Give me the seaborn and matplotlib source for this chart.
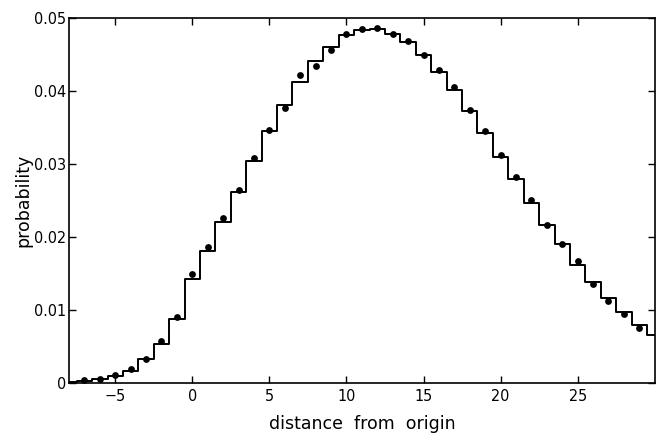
import pandas as pd
import seaborn as sns
import matplotlib.pyplot as plt
from matplotlib import ticker

# Histogram bins (centres, unit width) and their heights
bin_centres = list(range(-8, 31))
bin_heights = [0.0002, 0.0003, 0.0005, 0.0009, 0.0016, 0.0033, 0.0054, 0.0088,
               0.0142, 0.0181, 0.0221, 0.0262, 0.0304, 0.0345, 0.0381, 0.0413,
               0.0441, 0.0461, 0.0477, 0.0484, 0.0485, 0.0478, 0.0467, 0.0450,
               0.0426, 0.0401, 0.0373, 0.0342, 0.0310, 0.0279, 0.0247, 0.0217,
               0.0190, 0.0162, 0.0139, 0.0117, 0.0097, 0.0080, 0.0066]

# Points
dot_x = list(range(-7, 30))
dot_y = [0.0004, 0.0006, 0.0011, 0.0019, 0.0033, 0.0058, 0.0090,
         0.0149, 0.0187, 0.0226, 0.0264, 0.0309, 0.0347, 0.0377, 0.0422,
         0.0435, 0.0456, 0.0479, 0.0485, 0.0486, 0.0479, 0.0469, 0.0450,
         0.0429, 0.0406, 0.0374, 0.0345, 0.0313, 0.0283, 0.0251, 0.0217,
         0.0191, 0.0167, 0.0136, 0.0113, 0.0094, 0.0076]

x_ticks = [-5, 0, 5, 10, 15, 20, 25]
y_ticks = [0, 0.01, 0.02, 0.03, 0.04, 0.05]

sns.set_style('ticks')
plt.rcParams['font.family'] = ['DejaVu Sans']
plt.rcParams['font.stretch'] = 'condensed'

fig = plt.figure(figsize=(6.6, 4.33), dpi=100)
ax = fig.add_axes([0.1045, 0.1155, 0.8875, 0.8425])

hist = pd.DataFrame({'x': bin_centres, 'w': bin_heights})
sns.histplot(data=hist, x='x', weights='w', binwidth=1,
             binrange=(bin_centres[0] - 0.5, bin_centres[-1] + 0.5),
             element='step', fill=False, color='black', linewidth=1.4, ax=ax)

pts = pd.DataFrame({'x': dot_x, 'y': dot_y})
sns.scatterplot(data=pts, x='x', y='y', color='black', s=24,
                edgecolor='black', linewidth=0, ax=ax, zorder=3)

ax.set_xlim(-8, 30)
ax.set_ylim(0, 0.05)
ax.xaxis.set_major_locator(ticker.FixedLocator(x_ticks))
ax.yaxis.set_major_locator(ticker.FixedLocator(y_ticks))
ax.yaxis.set_major_formatter(ticker.FuncFormatter(lambda v, pos: f'{v:.2f}' if v else '0'))
ax.tick_params(direction='in', length=5, width=1, top=True, right=True,
               labelsize=11.5, pad=4, colors='black')
ax.tick_params(axis='y', pad=2)
for s in ax.spines.values():
    s.set_visible(True)
    s.set_linewidth(1.2)
    s.set_color('black')
ax.set_xlabel('distance  from  origin', fontsize=12.5, fontstretch='normal', color='black')
ax.set_ylabel('probability', fontsize=12.5, fontstretch='normal', color='black')
ax.xaxis.set_label_coords(0.5, -0.088)
ax.yaxis.set_label_coords(-0.062, 0.5)

fig.savefig('out.png', dpi=100)
